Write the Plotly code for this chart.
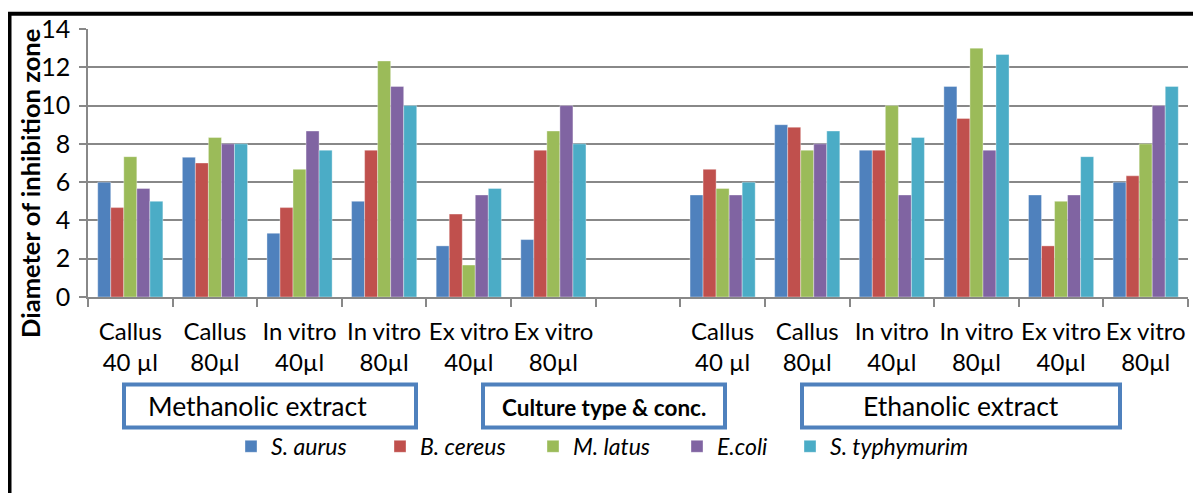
import plotly.graph_objects as go

# ---- data ----
categories = ["Callus<br>40 µl", "Callus<br>80µl", "In vitro<br>40µl", "In vitro<br>80µl",
              "Ex vitro<br>40µl", "Ex vitro<br>80µl", "",
              "Callus<br>40 µl", "Callus<br>80µl", "In vitro<br>40µl", "In vitro<br>80µl",
              "Ex vitro<br>40µl", "Ex vitro<br>80µl"]
series_names = ["S. aurus", "B. cereus", "M. latus", "E.coli", "S. typhymurim"]
s_aurus = [6, 7.3, 3.33, 5, 2.67, 3, None, 5.33, 9, 7.67, 11, 5.33, 6]
b_cereus = [4.67, 7, 4.67, 7.67, 4.33, 7.67, None, 6.67, 8.87, 7.67, 9.33, 2.67, 6.33]
m_latus = [7.33, 8.33, 6.67, 12.33, 1.67, 8.67, None, 5.67, 7.67, 10, 13, 5, 8]
e_coli = [5.67, 8, 8.67, 11, 5.33, 10, None, 5.33, 8, 5.33, 7.67, 5.33, 10]
s_typhymurim = [5, 8, 7.67, 10, 5.67, 8, None, 6, 8.67, 8.33, 12.67, 7.33, 11]
y_ticks = [0, 2, 4, 6, 8, 10, 12, 14]
y_title = "Diameter of inhibition zone"
box_labels = ["Methanolic extract", "Culture type & conc.", "Ethanolic extract"]

colors = ["#4F81BD", "#C0504D", "#9BBB59", "#8064A2", "#4BACC6"]
values = [s_aurus, b_cereus, m_latus, e_coli, s_typhymurim]
xpos = list(range(len(categories)))

# page body has an 8px default margin: figure is drawn offset by 8px
OFF = 8
W, H = 1201 - OFF, 493 - OFF
PL, PR, PT, PB = 88, 1188, 28.7, 297.3          # plot area in screen pixels
L, R, T, B = PL - OFF, W - (PR - OFF), PT - OFF, H - (PB - OFF)
PW, PH = PR - PL, PB - PT


def px(x):
    return (x - PL) / PW


def py(y):
    return (PB - y) / PH


FONT = "Lato, Calibri, Carlito, sans-serif"

# legend square left edges (screen pixels) for each series
legend_sq = [247, 396, 549, 693, 806]
legend_ids = ["legend", "legend2", "legend3", "legend4", "legend5"]

fig = go.Figure()
for name, vals, c, lid in zip(series_names, values, colors, legend_ids):
    fig.add_trace(go.Bar(
        x=xpos, y=vals, name=f"<i>{name}</i>", legend=lid,
        marker=dict(color=c, line=dict(color="rgba(255,255,255,0.45)", width=0.8)),
    ))

layout_legends = {}
for lid, sq in zip(legend_ids, legend_sq):
    layout_legends[lid] = dict(orientation="h", x=px(sq - 16), xanchor="left", y=py(447),
                               yanchor="middle", font=dict(size=23, family=FONT),
                               bgcolor="rgba(0,0,0,0)", itemwidth=30)

fig.update_layout(
    width=W, height=H,
    margin=dict(l=L, r=R, t=T, b=B, pad=0, autoexpand=False),
    paper_bgcolor="white", plot_bgcolor="white",
    barmode="group", bargap=0.23, bargroupgap=0,
    font=dict(family=FONT, color="black", size=24),
    showlegend=True,
    xaxis=dict(range=[-0.5, len(categories) - 0.5], tickmode="array", tickvals=xpos,
               ticktext=categories, ticks="", showgrid=False, zeroline=False,
               showline=True, linecolor="#888888", linewidth=1.5, automargin=False,
               tickfont=dict(size=24, family=FONT), ticklabelstandoff=12,
               minor=dict(ticks="outside", tick0=0.5, dtick=1, ticklen=8,
                          tickcolor="#888888", tickwidth=1.5, showgrid=False)),
    yaxis=dict(range=[0, 14], tickvals=y_ticks, showgrid=True, gridcolor="#888888",
               gridwidth=1.5, zeroline=False, showline=True, linecolor="#888888",
               linewidth=1.5, ticks="outside", ticklen=7, tickcolor="#888888",
               tickwidth=1.5, tickfont=dict(size=25, family=FONT), ticklabelstandoff=4,
               automargin=False),
    **layout_legends,
)

shapes = []
# outer black frame (extends past right/bottom edge)
shapes.append(dict(type="rect", xref="paper", yref="paper", x0=px(9.5), x1=px(1215),
                   y0=py(510), y1=py(13.5), line=dict(color="black", width=4),
                   fillcolor="rgba(0,0,0,0)", layer="above"))
box_px = [(124, 416), (483, 725), (802, 1120)]
for x0, x1 in box_px:
    shapes.append(dict(type="rect", xref="paper", yref="paper", x0=px(x0), x1=px(x1),
                       y0=py(428), y1=py(385), line=dict(color="#4F81BD", width=4),
                       fillcolor="white"))
fig.update_layout(shapes=shapes)

ann = []
ann.append(dict(text=f"<b>{y_title}</b>", xref="paper", yref="paper", x=px(30), y=py(184),
                textangle=-90, showarrow=False, font=dict(size=25.5, family=FONT),
                xanchor="center", yanchor="middle"))
ann_pos = [(257, 407, False, 26.5), (604, 408, True, 22.5), (961, 407, False, 26.5)]
for lab, (cx, cy, bold, sz) in zip(box_labels, ann_pos):
    ann.append(dict(text=f"<b>{lab}</b>" if bold else lab, xref="paper", yref="paper",
                    x=px(cx), y=py(cy), showarrow=False, xanchor="center", yanchor="middle",
                    font=dict(size=sz, family=FONT)))
fig.update_layout(annotations=ann)

fig.write_html("out.html")
